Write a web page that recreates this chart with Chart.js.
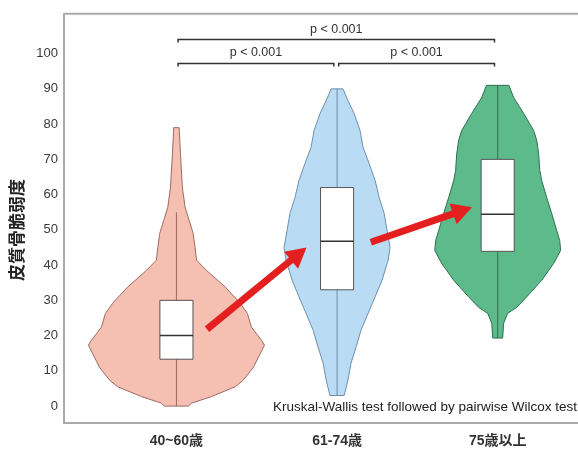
<!DOCTYPE html>
<html lang="ja">
<head>
  <meta charset="UTF-8">
  <title>皮質骨脆弱度</title>
  <script src="https://cdn.jsdelivr.net/npm/chart.js"></script>
  <style>
    html, body { margin: 0; padding: 0; background: #ffffff; }
    .chart-box { position: relative; width: 578px; height: 450px; }
  </style>
</head>
<body>
  <div class="chart-box">
    <canvas id="violinChart"></canvas>
  </div>

  <script>
    // categorias e ticks
    const categories = ['40~60歳', '61-74歳', '75歳以上'];
    const yTicks = [0, 10, 20, 30, 40, 50, 60, 70, 80, 90, 100];

    // contorno dos violinos: niveis e meia-largura (em unidades de categoria)
    const levels1 = [0, 0.8, 2.7, 5.5, 7.4, 11, 15, 17.3, 18.7, 22.4, 26.3, 29.2, 33.8, 38.5, 41.4, 45, 49, 52.7, 56.4, 62, 71.6, 79];
    const widths1 = [0.075, 0.093, 0.218, 0.367, 0.417, 0.479, 0.523, 0.548, 0.529, 0.467, 0.442, 0.397, 0.303, 0.187, 0.125, 0.116, 0.104, 0.079, 0.054, 0.037, 0.025, 0.017];

    const levels2 = [3, 4, 7.4, 12.2, 16.7, 21.5, 26.3, 31, 35.7, 41.4, 45, 49.9, 54.7, 59.2, 64, 68.8, 73.4, 78.2, 83, 86.7, 90];
    const widths2 = [0.044, 0.05, 0.068, 0.087, 0.118, 0.149, 0.193, 0.237, 0.28, 0.318, 0.33, 0.311, 0.293, 0.262, 0.237, 0.2, 0.162, 0.143, 0.106, 0.068, 0.037];

    const levels3 = [19.3, 23.5, 26.3, 28, 31, 35.7, 40.5, 44.2, 47, 49.9, 54.7, 59.2, 64, 66.9, 71.6, 75.4, 78.2, 83, 87.5, 91];
    const widths3 = [0.031, 0.037, 0.062, 0.118, 0.181, 0.274, 0.349, 0.392, 0.386, 0.367, 0.336, 0.305, 0.274, 0.262, 0.255, 0.243, 0.224, 0.162, 0.1, 0.07];

    // boxplot
    const whiskerLow = [0, 3, 19.3];
    const q1 = [13.3, 33, 43.9];
    const medians = [20, 46.8, 54.4];
    const q3 = [30, 62, 70];
    const whiskerHigh = [55, 90, 91];

    // comparacoes (indices das categorias) e p-valores
    const comparisons = [[0, 1], [1, 2], [0, 2]];
    const pLabels = ['p < 0.001', 'p < 0.001', 'p < 0.001'];
    const testNote = 'Kruskal-Wallis test followed by pairwise Wilcox test';

    const violins = [
      { levels: levels1, widths: widths1 },
      { levels: levels2, widths: widths2 },
      { levels: levels3, widths: widths3 }
    ];

    const fillColors = ['#F5BFB1', '#B9DBF4', '#5CBA8B'];
    const lineColors = ['#9C6A60', '#6E8FAB', '#2F6F4F'];
    const FONT = "'Liberation Sans', 'Noto Sans CJK JP', sans-serif";

    const violinPlugin = {
      id: 'violinPlugin',
      beforeDatasetsDraw(chart) {
        const { ctx, scales: { x, y } } = chart;
        ctx.save();
        violins.forEach((v, i) => {
          const c = i + 1;
          // violino
          ctx.beginPath();
          v.levels.forEach((lv, k) => {
            const px = x.getPixelForValue(c - v.widths[k]);
            const py = y.getPixelForValue(lv);
            if (k === 0) ctx.moveTo(px, py); else ctx.lineTo(px, py);
          });
          for (let k = v.levels.length - 1; k >= 0; k--) {
            ctx.lineTo(x.getPixelForValue(c + v.widths[k]), y.getPixelForValue(v.levels[k]));
          }
          ctx.closePath();
          ctx.fillStyle = fillColors[i];
          ctx.fill();
          ctx.lineWidth = 1;
          ctx.lineJoin = 'round';
          ctx.strokeStyle = lineColors[i];
          ctx.stroke();

          // whisker
          const cx = x.getPixelForValue(c);
          ctx.beginPath();
          ctx.moveTo(cx, y.getPixelForValue(whiskerLow[i]));
          ctx.lineTo(cx, y.getPixelForValue(whiskerHigh[i]));
          ctx.strokeStyle = lineColors[i];
          ctx.lineWidth = 1;
          ctx.stroke();

          // caixa
          const bl = x.getPixelForValue(c - 0.103);
          const br = x.getPixelForValue(c + 0.103);
          const bt = y.getPixelForValue(q3[i]);
          const bb = y.getPixelForValue(q1[i]);
          ctx.fillStyle = '#ffffff';
          ctx.fillRect(bl, bt, br - bl, bb - bt);
          ctx.strokeStyle = '#555555';
          ctx.lineWidth = 1;
          ctx.strokeRect(bl, bt, br - bl, bb - bt);
          const my = y.getPixelForValue(medians[i]);
          ctx.beginPath();
          ctx.moveTo(bl, my);
          ctx.lineTo(br, my);
          ctx.strokeStyle = '#333333';
          ctx.lineWidth = 1.5;
          ctx.stroke();
        });
        ctx.restore();
      },
      afterDatasetsDraw(chart) {
        const { ctx, scales: { x, y } } = chart;
        ctx.save();

        // setas vermelhas
        const arrows = [
          { from: [1.19, 21.8], to: [1.81, 45.0] },
          { from: [2.21, 46.5], to: [2.84, 56.4] }
        ];
        arrows.forEach(a => {
          const x0 = x.getPixelForValue(a.from[0]), y0 = y.getPixelForValue(a.from[1]);
          const x1 = x.getPixelForValue(a.to[0]), y1 = y.getPixelForValue(a.to[1]);
          const ang = Math.atan2(y1 - y0, x1 - x0);
          const headLen = 20, headW = 11;
          const bx = x1 - headLen * Math.cos(ang), by = y1 - headLen * Math.sin(ang);
          ctx.strokeStyle = '#E3201F';
          ctx.fillStyle = '#E3201F';
          ctx.lineWidth = 7;
          ctx.lineCap = 'butt';
          ctx.beginPath();
          ctx.moveTo(x0, y0);
          ctx.lineTo(bx + 2 * Math.cos(ang), by + 2 * Math.sin(ang));
          ctx.stroke();
          ctx.beginPath();
          ctx.moveTo(x1, y1);
          ctx.lineTo(bx + headW * Math.sin(ang), by - headW * Math.cos(ang));
          ctx.lineTo(bx - headW * Math.sin(ang), by + headW * Math.cos(ang));
          ctx.closePath();
          ctx.fill();
        });

        // colchetes de significancia
        const bracketY = [97.2, 97.2, 104];
        ctx.strokeStyle = '#333333';
        ctx.fillStyle = '#333333';
        ctx.lineWidth = 1.5;
        ctx.font = '12.5px ' + FONT;
        ctx.textAlign = 'center';
        ctx.textBaseline = 'alphabetic';
        comparisons.forEach((pair, i) => {
          const xl = x.getPixelForValue(pair[0] + 1 + 0.01);
          const xr = x.getPixelForValue(pair[1] + 1 - 0.02);
          const yl = y.getPixelForValue(bracketY[i]);
          ctx.beginPath();
          ctx.moveTo(xl, yl + 3);
          ctx.lineTo(xl, yl);
          ctx.lineTo(xr, yl);
          ctx.lineTo(xr, yl + 3);
          ctx.stroke();
          ctx.fillText(pLabels[i], (xl + xr) / 2, yl - 7);
        });

        // nota do teste
        ctx.font = '13.5px ' + FONT;
        ctx.fillStyle = '#222222';
        ctx.textAlign = 'right';
        ctx.textBaseline = 'middle';
        ctx.fillText(testNote, chart.chartArea.right - 1, 407);
        ctx.restore();
      },
      afterDraw(chart) {
        const { ctx, chartArea } = chart;
        ctx.save();
        // borda superior do painel
        ctx.strokeStyle = '#AAAAAA';
        ctx.lineWidth = 2;
        ctx.beginPath();
        ctx.moveTo(chartArea.left, chartArea.top);
        ctx.lineTo(chartArea.right, chartArea.top);
        ctx.stroke();
        // titulo do eixo y
        ctx.translate(18, 230);
        ctx.rotate(-Math.PI / 2);
        ctx.font = 'bold 17px ' + FONT;
        ctx.fillStyle = '#222222';
        ctx.textAlign = 'center';
        ctx.textBaseline = 'middle';
        ctx.fillText('皮質骨脆弱度', 0, 0);
        ctx.restore();
      }
    };

    const ctx = document.getElementById('violinChart').getContext('2d');
    const chart = new Chart(ctx, {
      type: 'scatter',
      data: {
        datasets: [{
          label: 'median',
          data: medians.map((m, i) => ({ x: i + 1, y: m })),
          pointRadius: 0,
          showLine: false
        }]
      },
      options: {
        responsive: true,
        maintainAspectRatio: false,
        animation: false,
        layout: {
          padding: { left: 0, right: 0, top: 13, bottom: 0 }
        },
        plugins: {
          legend: { display: false },
          tooltip: { enabled: false }
        },
        scales: {
          x: {
            type: 'linear',
            min: 0.3,
            max: 3.5,
            afterBuildTicks: scale => { scale.ticks = categories.map((_, i) => ({ value: i + 1 })); },
            afterFit: scale => { scale.height = 27; },
            grid: { display: false, drawTicks: false },
            border: { display: true, color: '#AAAAAA', width: 2 },
            ticks: {
              callback: value => categories[value - 1] || '',
              color: '#333333',
              font: { family: FONT, size: 14, weight: 'bold' },
              padding: 10,
              maxRotation: 0
            }
          },
          y: {
            min: -4.8,
            max: 111.3,
            afterBuildTicks: scale => { scale.ticks = yTicks.map(v => ({ value: v })); },
            afterFit: scale => { scale.width = 64; },
            grid: { display: false, drawTicks: false },
            border: { display: true, color: '#AAAAAA', width: 2 },
            ticks: {
              color: '#3A3A3A',
              font: { family: FONT, size: 13 },
              padding: 6
            }
          }
        }
      },
      plugins: [violinPlugin]
    });
  </script>
</body>
</html>
